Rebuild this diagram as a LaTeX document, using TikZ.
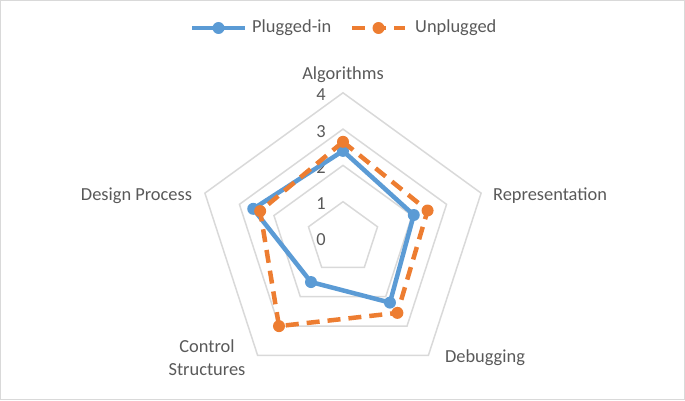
\documentclass[tikz,border=0pt]{standalone}
\usepackage{fontspec}
\setmainfont{Carlito}
\usetikzlibrary{calc}
\definecolor{plugblue}{HTML}{5B9BD5}
\definecolor{unplugorange}{HTML}{ED7D31}
\definecolor{gridgray}{HTML}{D9D9D9}
\definecolor{textgray}{HTML}{595959}
\tikzset{gridline/.style={draw=gridgray, line width=1.5pt},
  plugged/.style={draw=plugblue, line width=4.5pt, line join=round},
  unplugged/.style={draw=unplugorange, line width=4.5pt, line join=round, dash pattern=on 13pt off 8pt},
  lab/.style={text=textgray, font=\fontsize{18.4}{22}\selectfont, inner sep=0pt}}

\begin{document}
\begin{tikzpicture}[x=1pt,y=1pt]
  \useasboundingbox (0,0) rectangle (685,400);
  \draw[gridgray, line width=1pt] (0.5,0.5) rectangle (684.5,399.5);
  \def\u{36.3}
  \begin{scope}[shift={(343,162)}]
    % grid rings
    \foreach \k in {1,...,4} {
      \draw[gridline] (90:{\k*\u}) -- (18:{\k*\u}) -- (-54:{\k*\u}) -- (-126:{\k*\u}) -- (162:{\k*\u}) -- cycle;
    }
    \foreach \k in {0,...,4} {
      \node[lab, anchor=east] (tick\k) at (-17,{\k*\u-2}) {\k};
    }
    % data points
    \foreach \i/\pv/\uv in {
      0/2.4/2.65,
      1/2.05/2.45,
      2/2.2/2.55,
      3/1.5/3.0,
      4/2.6/2.4%
    } {
      \coordinate (p\i) at ({90-72*\i}:{\pv*\u});
      \coordinate (q\i) at ({90-72*\i}:{\uv*\u});
    }
    \draw[plugged] (p0) -- (p1) -- (p2) -- (p3) -- (p4) -- cycle;
    \foreach \i in {0,...,4} {
      \fill[plugblue] (p\i) circle (6);
    }
    \draw[unplugged] (q0) -- (q1) -- (q2) -- (q3) -- (q4) -- cycle;
    \foreach \i in {0,...,4} {
      \fill[unplugorange] (q\i) circle (6);
    }
  \end{scope}
  % category labels
  \node[lab] (alg) at (343,325) {Algorithms};
  \node[lab] (rep) at (550,204) {Representation};
  \node[lab] (dbg) at (485,42) {Debugging};
  \node[lab, align=center] (ctl) at (207,42) {Control\\[1pt]Structures};
  \node[lab] (dsg) at (136.5,204) {Design Process};
  % legend
  \coordinate (lp1) at (192,372);
  \coordinate (lp2) at (245,372);
  \coordinate (lu1) at (352,372);
  \coordinate (lu2) at (405,372);
  \draw[plugged] (lp1) -- (lp2);
  \fill[plugblue] ($(lp1)!.5!(lp2)$) circle (6);
  \node[lab, anchor=west] (lpl) at (252,372) {Plugged-in};
  \draw[unplugged] (lu1) -- (lu2);
  \fill[unplugorange] ($(lu1)!.5!(lu2)$) circle (6);
  \node[lab, anchor=west] (lul) at (415,372) {Unplugged};
\end{tikzpicture}
\end{document}
